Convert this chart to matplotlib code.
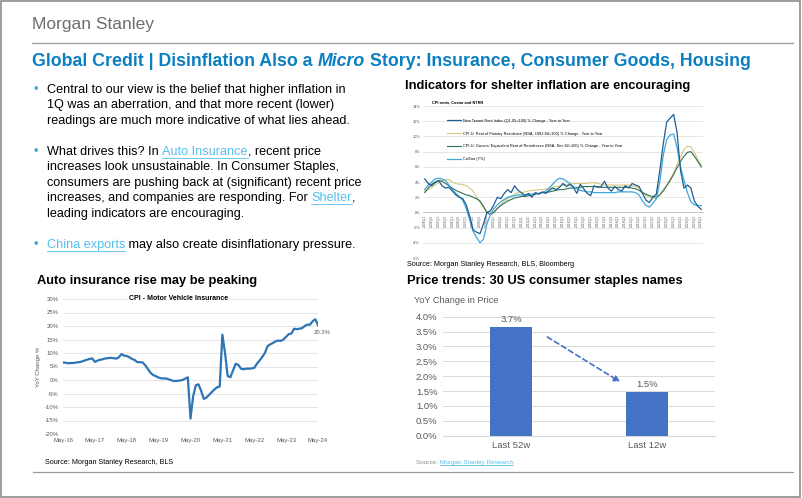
import matplotlib.pyplot as plt
from matplotlib.lines import Line2D
from matplotlib.patches import Rectangle

# -------------------------------
# Data
# -------------------------------

# Shelter chart: quarterly, 2004Q1 .. 2024Q1
quarters = [f"{y}Q{q}" for y in range(2004, 2025) for q in (1, 2, 3, 4)][:81]

ntrr = [4.4, 3.8, 3.5, 3.9, 4.2, 3.5, 3.2, 3.3, 2.8, 2.3, 2.0, 1.8, 1.0, -0.5, -2.3, -2.6,
        -2.8, -1.5, 0.0, 0.2, 1.0, 2.0, 1.8, 2.5, 3.0, 2.6, 3.5, 2.9, 2.6, 2.2, 2.5, 2.0,
        2.6, 2.4, 2.7, 2.5, 2.9, 3.2, 3.0, 3.3, 3.8, 3.4, 3.7, 3.3, 2.5, 3.7, 3.1, 2.5,
        2.2, 3.5, 3.3, 3.4, 4.1, 3.2, 2.8, 3.4, 3.0, 2.8, 3.5, 3.2, 3.8, 3.6, 3.4, 2.5,
        1.6, 1.3, 2.0, 2.4, 5.5, 9.0, 11.9, 12.4, 12.9, 10.5, 5.5, 3.2, 3.6, 3.2, 1.5, 0.8,
        0.4]

cpi_rent = [2.8, 3.0, 3.3, 3.6, 3.9, 4.2, 4.3, 4.3, 4.0, 3.8, 3.7, 3.7, 3.5, 3.2, 2.8, 2.0,
            1.3, 0.6, 0.0, -0.2, 0.1, 0.6, 1.0, 1.5, 1.8, 2.1, 2.4, 2.6, 2.6, 2.7, 2.8, 2.9,
            2.9, 3.0, 3.0, 3.1, 3.2, 3.3, 3.4, 3.5, 3.6, 3.7, 3.7, 3.8, 3.8, 3.8, 3.8, 3.8,
            3.9, 3.9, 3.8, 3.7, 3.6, 3.6, 3.6, 3.6, 3.6, 3.6, 3.6, 3.6, 3.5, 3.4, 3.2, 2.7,
            2.2, 2.0, 1.9, 1.8, 2.3, 3.0, 3.6, 4.4, 5.2, 6.3, 7.3, 8.3, 8.7, 8.6, 7.9, 7.0,
            6.2]

cpi_oer = [2.6, 3.2, 3.7, 4.0, 4.2, 4.1, 3.8, 3.5, 3.2, 2.9, 2.7, 2.5, 2.3, 2.2, 2.0, 1.8,
           1.5, 0.8, 0.0, -0.3, 0.0, 0.5, 0.9, 1.2, 1.5, 1.7, 1.9, 2.0, 2.1, 2.1, 2.2, 2.3,
           2.4, 2.5, 2.6, 2.6, 2.7, 2.8, 2.9, 3.0, 3.0, 3.1, 3.2, 3.2, 3.3, 3.3, 3.4, 3.4,
           3.4, 3.4, 3.4, 3.3, 3.3, 3.3, 3.3, 3.3, 3.3, 3.3, 3.3, 3.3, 3.2, 3.1, 2.9, 2.6,
           2.4, 2.2, 2.1, 2.0, 2.3, 2.8, 3.5, 4.2, 5.0, 5.9, 6.7, 7.4, 7.9, 8.0, 7.4, 6.7,
           6.0]

costar = [3.0, 3.6, 4.0, 4.4, 4.5, 4.4, 4.2, 3.6, 3.0, 2.5, 2.1, 1.6, 0.5, -1.0, -2.5, -3.3,
          -4.0, -3.5, -1.5, -0.3, 0.5, 1.0, 1.4, 1.7, 2.0, 2.1, 2.2, 2.3, 2.3, 2.3, 2.4, 2.4,
          2.5, 2.5, 2.6, 2.8, 3.2, 3.7, 4.2, 4.5, 4.4, 4.1, 3.8, 3.4, 3.1, 2.9, 2.8, 2.7,
          2.7, 2.6, 2.6, 2.6, 2.6, 2.6, 2.6, 2.6, 2.7, 2.7, 2.7, 2.7, 2.7, 2.6, 2.3, 1.5,
          0.9, 0.7, 1.2, 1.8, 4.0, 7.5, 9.6, 10.2, 10.3, 8.5, 6.0, 4.2, 2.6, 1.4, 1.0, 0.9,
          0.9]

shelter_names = ["New Tenant Rent Index (Q1-05=100) % Change - Year to Year",
                 "CPI-U: Rent of Primary Residence (NSA, 1982-84=100) % Change - Year to Year",
                 "CPI-U: Owners' Equivalent Rent of Residences (NSA, Dec 82=100) % Change - Year to Year",
                 "CoStar (Y%)"]

# Auto insurance chart: monthly, May-16 .. May-24
auto_ins = [6.5, 6.4, 6.2, 6.3, 6.3, 6.5, 6.6, 6.8, 7.2, 7.5, 7.8, 8.0,
            6.7, 7.2, 7.5, 7.7, 8.0, 8.1, 8.2, 8.1, 7.9, 8.4, 9.6, 9.0,
            8.9, 8.4, 7.8, 7.4, 6.6, 6.6, 6.5, 5.4, 4.0, 2.6, 1.8, 1.4,
            0.9, 0.6, 0.6, 0.5, 0.2, -0.2, -0.4, -0.3, -0.2, 0.0, 0.5, 1.0,
            -14.3, -6.0, -2.0, -1.6, -4.0, -7.0, -6.5, -5.5, -4.5, -3.5, -2.7, -2.4,
            16.8, 10.0, 1.5, 1.0, 3.5, 6.0, 5.6, 4.2, 4.0, 4.2, 4.2, 4.3,
            4.5, 6.0, 7.2, 8.5, 10.0, 12.5, 13.2, 13.7, 14.3, 14.6, 14.5, 15.0,
            16.0, 17.0, 17.2, 19.0, 18.8, 19.0, 19.2, 20.0, 20.5, 20.5, 21.8, 22.5,
            20.3]
auto_ticks = ["May-16", "May-17", "May-18", "May-19", "May-20",
              "May-21", "May-22", "May-23", "May-24"]

# Consumer staples bar chart
staples_cats = ["Last 52w", "Last 12w"]
staples_vals = [3.66, 1.46]

# -------------------------------
# Figure helpers (pixel positions on the 802x498 slide)
# -------------------------------
W, H = 802, 498
plt.rcParams['font.family'] = ['Liberation Sans', 'DejaVu Sans']

fig = plt.figure(figsize=(W / 100, H / 100), dpi=100)
renderer = fig.canvas.get_renderer()

BLUE_TITLE = "#0b7fc1"
LINK = "#55bff0"
GRAY = "#595959"


def fx(x):
    return x / W


def fy(y):
    return 1 - y / H


def rect(x0, y0, x1, y1):
    return [fx(x0), fy(y1), (x1 - x0) / W, (y1 - y0) / H]


def hline(x0, x1, y, color, lw=1.0):
    fig.add_artist(Line2D([fx(x0), fx(x1)], [fy(y), fy(y)], color=color, lw=lw,
                          transform=fig.transFigure))


def rich_line(x, y, parts, size, **kw):
    # parts: (text, color, underline, style)
    for txt, color, under, style in parts:
        t = fig.text(fx(x), fy(y), txt, fontsize=size, color=color, va='center',
                     ha='left', fontstyle=style, **kw)
        bb = t.get_window_extent(renderer=renderer)
        if under:
            hline(bb.x0, bb.x1, y + size * 0.62, color, lw=0.6)
        x = bb.x1


# frame and header
fig.add_artist(Rectangle((0.001, 0.002), 0.997, 0.996, fill=False, ec="#8c8c8c", lw=1.2,
                         transform=fig.transFigure))
fig.text(fx(32), fy(24), "Morgan Stanley", fontsize=12.5, color="#6e6e6e", va='center')
hline(32, 793, 43, "#9a9a9a", lw=0.9)
hline(33, 793, 472, "#9a9a9a", lw=0.9)

rich_line(32, 61, [("Global Credit | Disinflation Also a ", BLUE_TITLE, False, 'normal'),
                   ("Micro", BLUE_TITLE, False, 'italic'),
                   (" Story: Insurance, Consumer Goods, Housing", BLUE_TITLE, False, 'normal')],
          12.8, fontweight='bold')

# bullets
BODY = 9.1
bullets = [
    (90, [[("Central to our view is the belief that higher inflation in", "black", False, 'normal')],
          [("1Q was an aberration, and that more recent (lower)", "black", False, 'normal')],
          [("readings are much more indicative of what lies ahead.", "black", False, 'normal')]]),
    (152, [[("What drives this? In ", "black", False, 'normal'),
            ("Auto Insurance", LINK, True, 'normal'),
            (", recent price", "black", False, 'normal')],
           [("increases look unsustainable. In Consumer Staples,", "black", False, 'normal')],
           [("consumers are pushing back at (significant) recent price", "black", False, 'normal')],
           [("increases, and companies are responding. For ", "black", False, 'normal'),
            ("Shelter", LINK, True, 'normal'),
            (",", "black", False, 'normal')],
           [("leading indicators are encouraging.", "black", False, 'normal')]]),
    (245, [[("China exports", LINK, True, 'normal'),
            (" may also create disinflationary pressure.", "black", False, 'normal')]]),
]
for y0, lines in bullets:
    fig.text(fx(34), fy(y0), "\u2022", fontsize=BODY, color="#3fa6d6", va='center')
    for k, parts in enumerate(lines):
        rich_line(47, y0 + k * 15.4, parts, BODY)

# section headings
HEAD = 9.25
fig.text(fx(405), fy(86), "Indicators for shelter inflation are encouraging",
         fontsize=HEAD, fontweight='bold', va='center')
fig.text(fx(37), fy(281), "Auto insurance rise may be peaking",
         fontsize=HEAD, fontweight='bold', va='center')
fig.text(fx(407), fy(281), "Price trends: 30 US consumer staples names",
         fontsize=HEAD, fontweight='bold', va='center')

# -------------------------------
# Shelter chart
# -------------------------------
ax1 = fig.add_axes(rect(423, 106, 703, 258))
for s in ("top", "right", "left"):
    ax1.spines[s].set_visible(False)
# move the x axis to the zero line first: this resets the ticks
ax1.spines["bottom"].set_position(("data", 0))
ax1.spines["bottom"].set_color("#bfbfbf")
ax1.spines["bottom"].set_linewidth(0.6)

xs = list(range(len(quarters)))
ax1.plot(xs, cpi_rent, color="#d6c77a", lw=0.8, label=shelter_names[1], zorder=3)
ax1.plot(xs, cpi_oer, color="#2f7156", lw=0.8, label=shelter_names[2], zorder=3)
ax1.plot(xs, costar, color="#3ea8db", lw=0.9, label=shelter_names[3], zorder=4)
ax1.plot(xs, ntrr, color="#1f5e92", lw=0.9, label=shelter_names[0], zorder=5)
ax1.set_ylim(-6, 14)
ax1.set_xlim(-0.5, len(quarters) - 0.5)
ax1.set_yticks(range(-6, 15, 2))
ax1.set_yticklabels([f"{v}%" for v in range(-6, 15, 2)], fontsize=2.8, color=GRAY)
ax1.set_xticks(xs[::2])
ax1.set_xticklabels(quarters[::2], rotation=90, fontsize=2.4, color=GRAY)
ax1.tick_params(length=0, pad=2)
ax1.grid(axis='y', color="#e3e3e3", lw=0.6)
ax1.set_axisbelow(True)
h, l = ax1.get_legend_handles_labels()
order = [3, 0, 1, 2]
ax1.legend([h[i] for i in order], [l[i] for i in order], loc="upper left",
           bbox_to_anchor=(0.08, 0.93), frameon=False, fontsize=2.8,
           labelspacing=2.3, handlelength=3.5, handletextpad=0.5, borderpad=0)
fig.text(fx(432), fy(102), "CPI rents, Costar and NTRR", fontsize=2.8,
         fontweight='bold', va='center')
fig.text(fx(407), fy(265), "Source: Morgan Stanley Research, BLS, Bloomberg",
         fontsize=5.2, va='center')

# -------------------------------
# Auto insurance chart
# -------------------------------
ax2 = fig.add_axes(rect(63, 299, 318, 434))
ms = list(range(len(auto_ins)))
ax2.plot(ms, auto_ins, color="#2e75b6", lw=1.6, zorder=3)
ax2.set_ylim(-20, 30)
ax2.set_xlim(0, len(auto_ins) - 1)
ax2.set_yticks(range(-20, 31, 5))
ax2.set_yticklabels([f"{v}%" for v in range(-20, 31, 5)], fontsize=4.3, color=GRAY)
ax2.set_xticks(ms[::12])
ax2.set_xticklabels(auto_ticks, fontsize=4.3, color=GRAY)
ax2.tick_params(length=0, pad=3)
ax2.grid(axis='y', color="#e0e0e0", lw=0.6)
ax2.set_axisbelow(True)
for s in ("top", "right", "left", "bottom"):
    ax2.spines[s].set_visible(False)
ax2.set_ylabel("YoY Change %", fontsize=4.3, color=GRAY, labelpad=3)
ax2.annotate(f"{auto_ins[-1]:.1f}%", (ms[-1], auto_ins[-1]), xytext=(-3, -5),
             textcoords="offset points", fontsize=4.3, color=GRAY, ha="left", va="center")
fig.text(fx(179), fy(298), "CPI - Motor Vehicle Insurance", fontsize=5.0, fontweight='bold',
         ha='center', va='center', bbox=dict(fc="white", ec="none", pad=1))
fig.text(fx(45), fy(462), "Source: Morgan Stanley Research, BLS", fontsize=5.2, va='center')

# -------------------------------
# Consumer staples bar chart
# -------------------------------
ax3 = fig.add_axes(rect(443, 316.7, 715, 435.7))
bx = list(range(len(staples_cats)))
ax3.bar(bx, staples_vals, width=0.315, color="#4472c4", zorder=3)
for xi, v in zip(bx, staples_vals):
    ax3.text(xi, v + 0.1, f"{v:.1f}%", ha="center", va="bottom", fontsize=6.8, color=GRAY)
ax3.set_xlim(-0.5, 1.5)
ax3.set_ylim(0, 4)
ax3.set_yticks([i * 0.5 for i in range(9)])
ax3.set_yticklabels([f"{i * 0.5:.1f}%" for i in range(9)], fontsize=6.8, color=GRAY)
ax3.set_xticks(bx)
ax3.set_xticklabels(staples_cats, fontsize=6.8, color=GRAY)
ax3.tick_params(length=0, pad=4)
ax3.grid(axis='y', color="#d9d9d9", lw=0.7)
ax3.set_axisbelow(True)
for s in ("top", "right", "left"):
    ax3.spines[s].set_visible(False)
ax3.spines["bottom"].set_color("#d9d9d9")
ax3.annotate("", xy=(0.82, staples_vals[1] + 0.3), xytext=(0.25, staples_vals[0] * 0.92),
             arrowprops=dict(arrowstyle="-|>", color="#4472c4", lw=1.2, ls=(0, (3, 2)),
                             mutation_scale=9))
fig.text(fx(414), fy(300), "YoY Change in Price", fontsize=6.6, color=GRAY, va='center')
rich_line(416, 462, [("Source: ", "#8c8c8c", False, 'normal'),
                     ("Morgan Stanley Research", LINK, True, 'normal')], 4.6)

fig.savefig("out.png", dpi=100)
